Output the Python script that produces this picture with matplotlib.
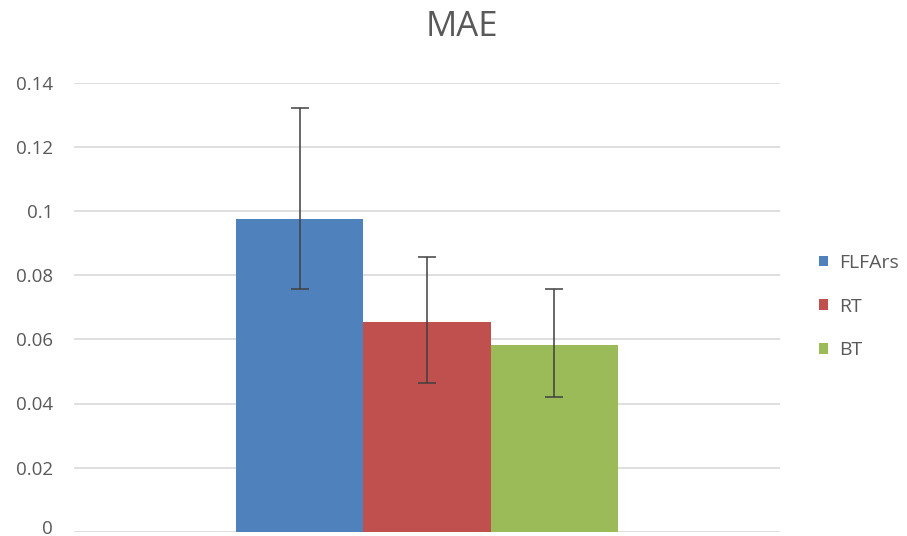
import matplotlib
matplotlib.use("Agg")
import matplotlib.pyplot as plt
from matplotlib.patches import Patch
from matplotlib.transforms import ScaledTranslation

series = ["FLFArs", "RT", "BT"]
values = [0.0977, 0.0653, 0.0583]
err_upper = [0.1321, 0.0858, 0.0758]
err_lower = [0.0758, 0.0464, 0.0420]
colors = ["#4F81BD", "#C0504D", "#9BBB59"]
yticks = [0, 0.02, 0.04, 0.06, 0.08, 0.1, 0.12, 0.14]
ytick_labels = ["0", "0.02", "0.04", "0.06", "0.08", "0.1", "0.12", "0.14"]

plt.rcParams['font.family'] = ['Open Sans', 'DejaVu Sans']
fig = plt.figure(figsize=(9.07, 5.36), dpi=100)
ax = fig.add_axes([74/907, 1-531.7/536, (780-74)/907, (531.7-83)/536])

xs = [-1, 0, 1]
for x, v, lo, hi, c in zip(xs, values, err_lower, err_upper, colors):
    ax.bar(x, v, width=1.0, color=c, zorder=2)
    ax.errorbar(x, v, yerr=[[v - lo], [hi - v]], fmt='none', ecolor='#404040',
                elinewidth=1.1, capsize=6.5, capthick=1.1, zorder=3)

ax.set_xlim(-2.77, 2.77)
ax.set_ylim(0, 0.14)
ax.set_yticks(yticks)
ax.set_yticklabels(ytick_labels)
ax.set_xticks([])
ax.grid(axis='y', color='#D9D9D9', linewidth=1.2, zorder=0)
for s in ax.spines.values():
    s.set_visible(False)
ax.tick_params(axis='y', length=0, pad=15, labelsize=13.5, labelcolor='#595959')

# keep the "0" label inside the figure
fig.canvas.draw()
lbl0 = ax.get_yticklabels()[0]
lbl0.set_transform(lbl0.get_transform() + ScaledTranslation(0, 5/100, fig.dpi_scale_trans))

fig.text(462/907, 1-27/536, "MAE", ha='center', va='center', fontsize=25, color='#595959')

handles = [Patch(facecolor=c, edgecolor='none') for c in colors]
leg = fig.legend(handles, series, loc='center left', bbox_to_anchor=(819/907, 1-306.7/536),
                 frameon=False, fontsize=14, labelcolor='#595959', handlelength=0.46,
                 handleheight=0.46, handletextpad=0.6, labelspacing=1.32, borderpad=0,
                 borderaxespad=0)

fig.savefig("out.png", dpi=100)
